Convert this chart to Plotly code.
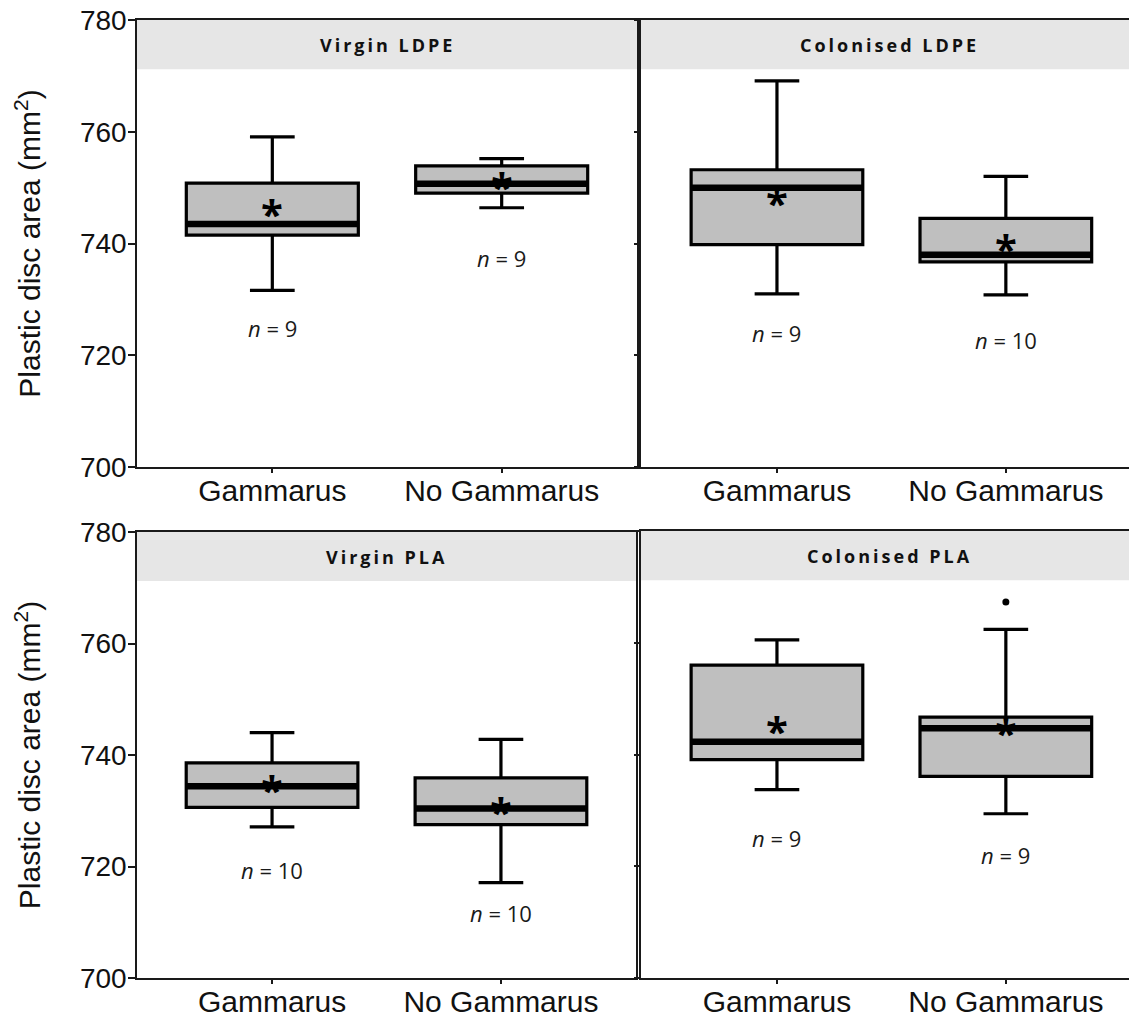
import plotly.graph_objects as go

categories = ["Gammarus", "No Gammarus"]
panel_titles = ["Virgin LDPE", "Colonised LDPE", "Virgin PLA", "Colonised PLA"]

# per panel: [Gammarus, No Gammarus]
lower_whisker = [[731.6, 746.4], [731.0, 730.8], [727.1, 717.1], [733.7, 729.4]]
q1 = [[741.5, 749.0], [739.8, 736.7], [730.6, 727.5], [739.1, 736.1]]
median = [[743.5, 750.7], [750.0, 738.0], [734.4, 730.4], [742.3, 744.7]]
q3 = [[750.8, 753.9], [753.2, 744.5], [738.6, 735.9], [756.0, 746.7]]
upper_whisker = [[759.1, 755.2], [769.1, 752.0], [744.0, 742.8], [760.5, 762.4]]
means = [[745.9, 750.7], [747.8, 739.6], [734.3, 730.4], [744.9, 744.5]]
n_values = [[9, 9], [9, 10], [10, 10], [9, 9]]
n_label_y = [[724.9, 737.4], [724.0, 722.8], [719.4, 711.6], [725.0, 722.0]]
outliers = [[[], []], [[], []], [[], []], [[], [767.3]]]
yticks = [700, 720, 740, 760, 780]
y_range = [700, 780]
strip_bottom = 771.2

BOX_W = 0.75
FILL = "#bfbfbf"
LINE = "#000000"
AX = "#1a1a1a"

# page body adds an 8px margin, so the figure is 8px smaller than the window
W, H = 1129, 1009
x_domains = [[129 / W, 629 / W], [633 / W, 1.0], [129 / W, 628 / W], [633 / W, 1.0]]
y_domains = [[(H - 459) / H, (H - 12) / H], [(H - 459) / H, (H - 12) / H],
             [(H - 970) / H, (H - 524) / H], [(H - 970) / H, (H - 523) / H]]
x_ranges = [[-0.59, 1.59], [-0.594, 1.573], [-0.59, 1.59], [-0.594, 1.573]]

fig = go.Figure()
layout = dict(
    width=W, height=H,
    margin=dict(l=0, r=0, t=0, b=0, autoexpand=False),
    paper_bgcolor="white", plot_bgcolor="white",
    showlegend=False,
    shapes=[], annotations=[],
)

for p in range(4):
    xa = "x" if p == 0 else f"x{p+1}"
    ya = "y" if p == 0 else f"y{p+1}"
    xkey = "xaxis" if p == 0 else f"xaxis{p+1}"
    ykey = "yaxis" if p == 0 else f"yaxis{p+1}"
    left = p in (0, 2)

    for i, cat in enumerate(categories):
        fig.add_trace(go.Box(
            x=[i], q1=[q1[p][i]], median=[median[p][i]], q3=[q3[p][i]],
            lowerfence=[lower_whisker[p][i]], upperfence=[upper_whisker[p][i]],
            width=BOX_W, whiskerwidth=0.26, fillcolor=FILL,
            line=dict(color=LINE, width=3.2), boxpoints=False,
            xaxis=xa, yaxis=ya, hoverinfo="skip",
        ))
        fig.add_trace(go.Scatter(
            x=[i - BOX_W / 2, i + BOX_W / 2], y=[median[p][i], median[p][i]],
            mode="lines", line=dict(color=LINE, width=6.5),
            xaxis=xa, yaxis=ya, hoverinfo="skip",
        ))
        if outliers[p][i]:
            fig.add_trace(go.Scatter(
                x=[i] * len(outliers[p][i]), y=outliers[p][i], mode="markers",
                marker=dict(color=LINE, size=7),
                xaxis=xa, yaxis=ya, hoverinfo="skip",
            ))
        layout["annotations"].append(dict(
            x=i, y=means[p][i], xref=xa, yref=ya, text="<b>*</b>", showarrow=False,
            font=dict(family="Open Sans", size=40, color=LINE),
            xanchor="center", yanchor="middle", yshift=-3,
        ))
        layout["annotations"].append(dict(
            x=i, y=n_label_y[p][i], xref=xa, yref=ya,
            text=f"<i>n</i> = {n_values[p][i]}", showarrow=False,
            font=dict(family="Open Sans", size=22, color="#1a1a1a"),
            xanchor="center", yanchor="middle",
        ))

    layout["shapes"].append(dict(
        type="rect", xref=f"{xa} domain", yref=ya, x0=0, x1=1,
        y0=strip_bottom, y1=y_range[1], fillcolor="#e6e6e6",
        line=dict(width=0), layer="below",
    ))
    layout["annotations"].append(dict(
        x=0.5, y=(strip_bottom + y_range[1]) / 2, xref=f"{xa} domain", yref=ya,
        text=f"<span style=\"letter-spacing:3px\"><b>{panel_titles[p]}</b></span>",
        showarrow=False,
        font=dict(family="Open Sans", size=18, color="#111111"),
        xanchor="center", yanchor="middle",
    ))

    layout[xkey] = dict(
        domain=x_domains[p], range=x_ranges[p], anchor=ya, automargin=False,
        tickmode="array", tickvals=[0, 1], ticktext=categories,
        ticks="outside", ticklen=4, tickwidth=1.5, tickcolor=AX,
        ticklabelstandoff=-8, ticklabeloverflow="allow",
        showline=True, linecolor=AX, linewidth=1.5, mirror=True,
        showgrid=False, zeroline=False,
        tickfont=dict(family="Liberation Sans", size=30, color="#111111"),
    )
    ydict = dict(
        domain=y_domains[p], range=y_range, anchor=xa, automargin=False,
        tickmode="array", tickvals=yticks, ticklabeloverflow="allow",
        ticks="outside", ticklen=7 if left else 5, tickwidth=1.5, tickcolor=AX,
        showline=True, linecolor=AX, linewidth=1.5, mirror=left,
        showgrid=False, zeroline=False,
        showticklabels=left,
        tickfont=dict(family="Liberation Sans", size=28, color="#111111"),
    )
    if left:
        ydict["ticklabelstandoff"] = -4
        ydict["title"] = dict(
            text="Plastic disc area (mm<sup>2</sup>)", standoff=30,
            font=dict(family="Liberation Sans", size=30, color="#111111"),
        )
    layout[ykey] = ydict

fig.update_layout(**layout)
fig.write_html("out.html")
